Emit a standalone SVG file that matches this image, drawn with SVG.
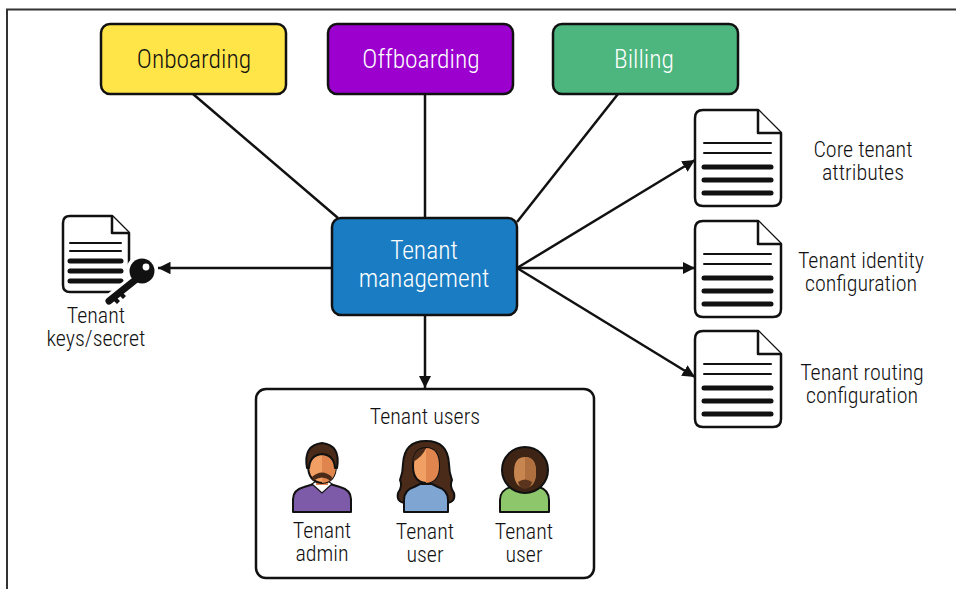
<svg xmlns="http://www.w3.org/2000/svg" width="956" height="589" viewBox="0 0 956 589">
  <style>
    text { font-family: "Roboto Condensed", "Liberation Sans Narrow", "DejaVu Sans Condensed", "Liberation Sans", sans-serif; font-stretch: condensed; font-weight: 350; text-anchor: middle; fill: #111; }
    .box { stroke: #111; stroke-width: 2.5; }
    .big { font-size: 25.5px; }
    .lbl { font-size: 22px; }
    .light { fill: #fff; }
    .conn { stroke: #111; stroke-width: 2.5; fill: none; }
    .doc { fill: #fff; stroke: #111; stroke-width: 2.5; stroke-linejoin: round; }
    .thin { stroke: #111; stroke-width: 2; stroke-linecap: round; }
    .thick { stroke: #111; stroke-width: 5; stroke-linecap: round; }
    .ol { stroke: #111; stroke-width: 2; stroke-linejoin: round; }
  </style>
  <defs>
    <marker id="arrow" viewBox="0 0 10 10" refX="10" refY="5" markerWidth="5" markerHeight="5" orient="auto" markerUnits="strokeWidth">
      <path d="M0,0 L10,5 L0,10 Z" fill="#111"/>
    </marker>
    <g id="docIcon">
      <path class="doc" d="M8,0 H63 L86,23 V88 Q86,96 78,96 H8 Q0,96 0,88 V8 Q0,0 8,0 Z"/>
      <path class="doc" d="M63,0 V23 H86"/>
      <line class="thin" x1="9" y1="33" x2="76" y2="33"/>
      <line class="thin" x1="9" y1="43" x2="76" y2="43"/>
      <line class="thick" x1="9" y1="57" x2="76" y2="57"/>
      <line class="thick" x1="9" y1="70" x2="76" y2="70"/>
      <line class="thick" x1="9" y1="83" x2="76" y2="83"/>
    </g>
  </defs>

  <rect width="956" height="589" fill="#fff"/>
  <!-- page frame -->
  <path d="M7,589 V9.5 H956" fill="none" stroke="#333" stroke-width="2"/>

  <!-- connectors -->
  <g id="connectors">
    <line class="conn" x1="193" y1="94" x2="338" y2="218"/>
    <line class="conn" x1="425" y1="94" x2="425" y2="218"/>
    <line class="conn" x1="618" y1="94" x2="517" y2="222"/>
    <line class="conn" x1="332" y1="268" x2="158" y2="268" marker-end="url(#arrow)"/>
    <line class="conn" x1="425" y1="315" x2="425" y2="388" marker-end="url(#arrow)"/>
    <line class="conn" x1="517" y1="268" x2="695" y2="160" marker-end="url(#arrow)"/>
    <line class="conn" x1="517" y1="268" x2="695" y2="268" marker-end="url(#arrow)"/>
    <line class="conn" x1="517" y1="268" x2="695" y2="377" marker-end="url(#arrow)"/>
  </g>

  <g id="onboarding">
    <rect class="box" x="101" y="24" width="185" height="70" rx="9" fill="#FFE548"/>
    <text class="big" x="194" y="68">Onboarding</text>
  </g>
  <g id="offboarding">
    <rect class="box" x="328" y="24" width="185" height="70" rx="9" fill="#9B00CF"/>
    <text class="big light" x="421" y="68">Offboarding</text>
  </g>
  <g id="billing">
    <rect class="box" x="553" y="24" width="185" height="70" rx="9" fill="#4DB57E"/>
    <text class="big light" x="644" y="68">Billing</text>
  </g>

  <g id="tenant-management">
    <rect class="box" x="332" y="218" width="185" height="97" rx="9" fill="#1A7DC3"/>
    <text class="big light" x="424" y="259">Tenant</text>
    <text class="big light" x="424" y="287">management</text>
  </g>

  <g id="tenant-keys">
    <path class="doc" d="M70,216 H112 L129,233 V285 Q129,292 122,292 H70 Q63,292 63,285 V223 Q63,216 70,216 Z"/>
    <path class="doc" d="M112,216 V233 H129"/>
    <line class="thin" x1="70" y1="243" x2="121" y2="243"/>
    <line class="thin" x1="70" y1="251" x2="121" y2="251"/>
    <line class="thick" x1="70" y1="261" x2="121" y2="261"/>
    <line class="thick" x1="70" y1="271" x2="121" y2="271"/>
    <line class="thick" x1="70" y1="281" x2="121" y2="281"/>
    <!-- key -->
    <line x1="139" y1="277" x2="109" y2="301" stroke="#fff" stroke-width="13" stroke-linecap="round"/>
    <circle cx="142" cy="271" r="16" fill="#fff"/>
    <line x1="139" y1="277" x2="109" y2="301" stroke="#111" stroke-width="7" stroke-linecap="round"/>
    <path d="M115,296 l5,5 l-3,3 l-5,-5 Z M121,291 l5,5 l-3,3 l-5,-5 Z" fill="#111"/>
    <circle cx="142" cy="271" r="12.5" fill="#111"/>
    <circle cx="146" cy="267" r="3.4" fill="#fff"/>
    <text class="lbl" x="96" y="323">Tenant</text>
    <text class="lbl" x="96" y="346">keys/secret</text>
  </g>

  <g id="core-attributes">
    <use href="#docIcon" x="695" y="110"/>
    <text class="lbl" x="863" y="157">Core tenant</text>
    <text class="lbl" x="863" y="180">attributes</text>
  </g>
  <g id="identity-config">
    <use href="#docIcon" x="695" y="221"/>
    <text class="lbl" x="861" y="268">Tenant identity</text>
    <text class="lbl" x="861" y="291">configuration</text>
  </g>
  <g id="routing-config">
    <use href="#docIcon" x="695" y="331"/>
    <text class="lbl" x="862" y="380">Tenant routing</text>
    <text class="lbl" x="862" y="403">configuration</text>
  </g>

  <g id="tenant-users">
    <rect class="box" x="256" y="389" width="338" height="189" rx="10" fill="#fff"/>
    <text class="lbl" x="425" y="424">Tenant users</text>

    <!-- admin -->
    <g id="tenant-admin">
      <path class="ol" fill="#7E5BA8" d="M293,512 V499 Q293,490 304,487 L314,484 H330 L340,487 Q351,490 351,499 V512 Z"/>
      <path fill="#fff" stroke="#111" stroke-width="1.2" d="M312,484 L322,493 L332,484 L328,481 H316 Z"/>
      <rect x="316" y="476" width="12" height="9" fill="#E0854E"/>
      <path class="ol" fill="#F29F63" d="M322,447 Q336,447 336,465 Q336,482 322,483 Q308,482 308,465 Q308,447 322,447 Z"/>
      <path fill="#E0854E" d="M322,447 Q336,447 336,465 Q336,482 322,483 Z"/>
      <path class="ol" fill="#4A2A18" d="M307,468 Q303,445 322,443 Q341,445 337,468 L335,468 Q334,455 322,454 Q310,455 309,468 Z"/>
      <path fill="#4A2A18" d="M312,477 Q322,468 332,477 L331,481 Q322,474 313,481 Z"/>
      <text class="lbl" x="322" y="538">Tenant</text>
      <text class="lbl" x="322" y="561">admin</text>
    </g>

    <!-- user 1 -->
    <g id="tenant-user-1">
      <path class="ol" fill="#4A2A18" d="M426,441 Q448,441 449,464 Q449,472 452,480 Q449,486 454,493 Q456,502 447,503 L405,503 Q396,502 398,493 Q403,486 400,480 Q403,472 403,464 Q404,441 426,441 Z"/>
      <path class="ol" fill="#7FA5D3" d="M404,512 V500 Q404,490 414,487 L420,484 H432 L438,487 Q448,490 448,500 V512 Z"/>
      <path class="ol" fill="#F29F63" d="M426,448 Q439,448 439,466 Q439,482 426,483 Q413,482 413,466 Q413,448 426,448 Z"/>
      <path fill="#E0854E" d="M426,448 Q439,448 439,466 Q439,482 426,483 Z"/>
      <path fill="#4A2A18" d="M413,462 Q414,448 426,448 Q423,456 413,462 Z"/>
      <text class="lbl" x="425" y="539">Tenant</text>
      <text class="lbl" x="425" y="562">user</text>
    </g>

    <!-- user 2 -->
    <g id="tenant-user-2">
      <path class="ol" fill="#8DC66B" d="M500,512 V500 Q500,490 511,487 L518,484 H532 L539,487 Q549,490 549,500 V512 Z"/>
      <rect x="519" y="478" width="12" height="8" fill="#A8683A"/>
      <circle class="ol" cx="525" cy="470" r="23" fill="#3D2415"/>
      <path fill="#C7854F" d="M525,457 Q536,457 536,472 Q536,487 525,488 Q514,487 514,472 Q514,457 525,457 Z"/>
      <path fill="#B06F3E" d="M525,457 Q536,457 536,472 Q536,487 525,488 Z"/>
      <path fill="#5A341C" d="M518,482 Q525,477 532,482 Q530,489 525,489 Q520,489 518,482 Z"/>
      <text class="lbl" x="524" y="539">Tenant</text>
      <text class="lbl" x="524" y="562">user</text>
    </g>
  </g>
</svg>
